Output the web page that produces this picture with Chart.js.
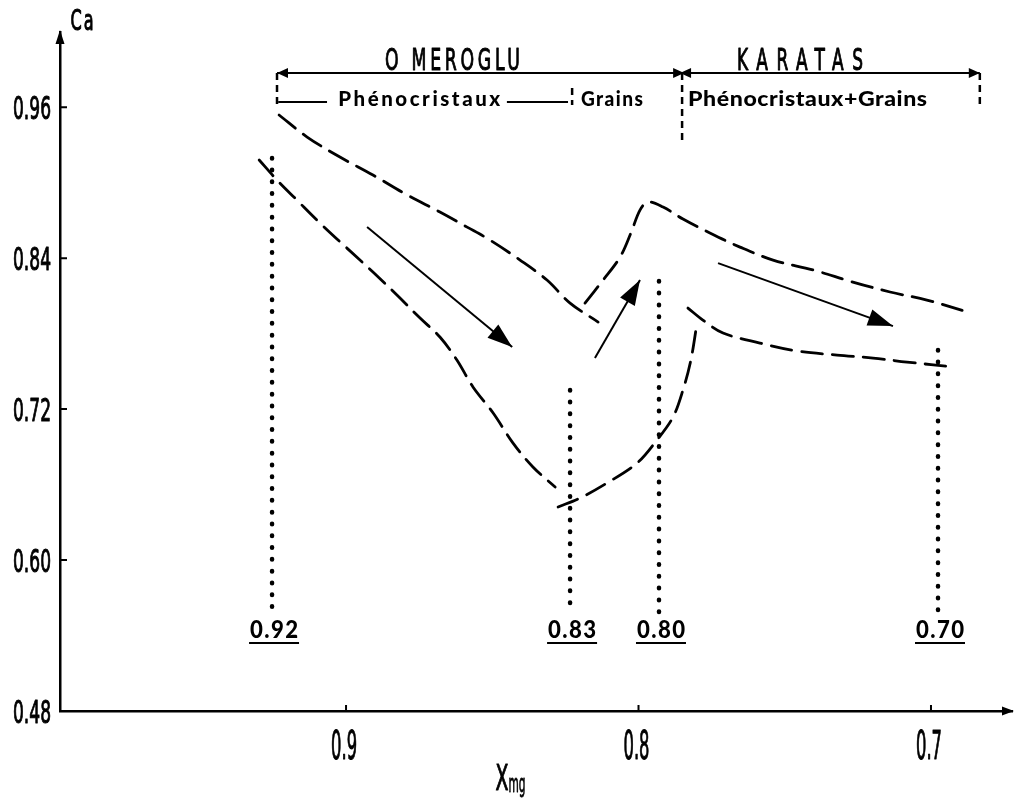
<!DOCTYPE html>
<html>
<head>
<meta charset="utf-8">
<script src="https://cdn.jsdelivr.net/npm/chart.js@4"></script>
<style>
  html, body { margin: 0; padding: 0; background: #fff; }
  canvas { display: block; }
</style>
</head>
<body>
<canvas id="chart" width="1017" height="811"></canvas>
<script>
// axis ticks
const xTicks = [0.9, 0.8, 0.7];
const yTicks = [0.48, 0.60, 0.72, 0.84, 0.96];

// OMEROGLU phenocrysts - upper and lower envelopes
const omUpperX = [0.9229, 0.9133, 0.9021, 0.8908, 0.8791, 0.8679, 0.8586, 0.8508, 0.8405, 0.8313, 0.8234, 0.8138];
const omUpperY = [0.9538, 0.9363, 0.9204, 0.9061, 0.8902, 0.8767, 0.8647, 0.8544, 0.8385, 0.8226, 0.8043, 0.7892];
const omLowerX = [0.9297, 0.9236, 0.9168, 0.9089, 0.8997, 0.8908, 0.8826, 0.8747, 0.8679, 0.8621, 0.8566, 0.8497, 0.8429, 0.8361, 0.8285];
const omLowerY = [0.9180, 0.9021, 0.8862, 0.8679, 0.8480, 0.8290, 0.8107, 0.7924, 0.7773, 0.7590, 0.7376, 0.7169, 0.6930, 0.6740, 0.6581];

// OMEROGLU grains - rising lower limb
const grainsX = [0.8275, 0.8200, 0.8108, 0.8005, 0.7937, 0.7882, 0.7848, 0.7821, 0.7800];
const grainsY = [0.6422, 0.6493, 0.6612, 0.6771, 0.6954, 0.7137, 0.7352, 0.7590, 0.7884];

// KARATAS - upper and lower envelopes
const kaUpperX = [0.8183, 0.8121, 0.8063, 0.8026, 0.7995, 0.7968, 0.7916, 0.7848, 0.7756, 0.7653, 0.7540, 0.7403, 0.7267, 0.7140, 0.7014, 0.6874];
const kaUpperY = [0.8043, 0.8226, 0.8409, 0.8600, 0.8782, 0.8846, 0.8806, 0.8711, 0.8600, 0.8488, 0.8385, 0.8306, 0.8210, 0.8131, 0.8067, 0.7972];
const kaLowerX = [0.7831, 0.7780, 0.7711, 0.7585, 0.7458, 0.7321, 0.7198, 0.7082, 0.6918];
const kaLowerY = [0.8003, 0.7908, 0.7805, 0.7725, 0.7662, 0.7630, 0.7606, 0.7574, 0.7534];

// trend arrows
const arrowFromX = [0.8928, 0.8149, 0.7728];
const arrowFromY = [0.8647, 0.7606, 0.8361];
const arrowToX = [0.8432, 0.7995, 0.7130];
const arrowToY = [0.7693, 0.8226, 0.7860];

// mean Xmg markers
const markLabels = ['0.92', '0.83', '0.80', '0.70'];
const markX = [0.9253, 0.8234, 0.7930, 0.6976];
const markTop = [0.9197, 0.7352, 0.8218, 0.7670];
const markBase = 0.5587;

// locality brackets
const groupNames = ['O MEROGLU', 'KARATAS'];
const groupFrom = [0.9236, 0.7858];
const groupTo = [0.7844, 0.6833];
const groupY = 0.9872;

// separators under the brackets
const sepX = [0.9236, 0.8227, 0.7851, 0.6833];
const sepTop = [0.9872, 0.9752, 0.9872, 0.9872];
const sepBottom = [0.9609, 0.9617, 0.9339, 0.9617];

// phase labels
const phaseLabels = ['Phénocristaux', 'Grains', 'Phénocristaux+Grains'];
const phaseX = [0.8750, 0.8091, 0.7422];
const phaseY = 0.9665;
const ruleFrom = [0.9232, 0.8450];
const ruleTo = [0.9065, 0.8241];
const ruleY = 0.9641;

const NARROW = "'DejaVu Sans Condensed', 'Liberation Sans Narrow', 'DejaVu Sans', sans-serif";
const ROUND = "Lato, 'Open Sans', sans-serif";

const pts = (xs, ys) => xs.map((x, i) => ({ x: x, y: ys[i] }));

const dashed = (xs, ys) => ({
    data: pts(xs, ys),
    borderColor: '#000',
    borderWidth: 2.8,
    borderDash: [21, 10],
    borderCapStyle: 'round',
    tension: 0.35,
    pointRadius: 0
});

const datasets = [
    dashed(omUpperX, omUpperY),
    dashed(omLowerX, omLowerY),
    dashed(grainsX, grainsY),
    dashed(kaUpperX, kaUpperY),
    dashed(kaLowerX, kaLowerY)
];

// trend arrows
arrowFromX.forEach((x, i) => {
    datasets.push({
        data: [{ x: x, y: arrowFromY[i] }, { x: arrowToX[i], y: arrowToY[i] }],
        borderColor: '#000',
        borderWidth: 2,
        pointRadius: 0,
        arrowHead: 'big'
    });
});

// dotted markers
markX.forEach((x, i) => {
    datasets.push({
        data: [{ x: x, y: markTop[i] }, { x: x, y: markBase }],
        borderColor: '#000',
        borderWidth: 4.5,
        borderDash: [0.5, 11.3],
        borderCapStyle: 'round',
        pointRadius: 0
    });
});

// bracket lines
groupFrom.forEach((x, i) => {
    datasets.push({
        data: [{ x: x, y: groupY }, { x: groupTo[i], y: groupY }],
        borderColor: '#000',
        borderWidth: 2,
        pointRadius: 0,
        arrowHead: 'both'
    });
});

// separators
sepX.forEach((x, i) => {
    datasets.push({
        data: [{ x: x, y: sepTop[i] }, { x: x, y: sepBottom[i] }],
        borderColor: '#000',
        borderWidth: 2.5,
        borderDash: [7, 5],
        pointRadius: 0
    });
});

// short rules either side of Phénocristaux
ruleFrom.forEach((x, i) => {
    datasets.push({
        data: [{ x: x, y: ruleY }, { x: ruleTo[i], y: ruleY }],
        borderColor: '#000',
        borderWidth: 2,
        pointRadius: 0
    });
});

function head(ctx, x0, y0, x1, y1, len, half) {
    const a = Math.atan2(y1 - y0, x1 - x0);
    const c = Math.cos(a), s = Math.sin(a);
    ctx.beginPath();
    ctx.moveTo(x1, y1);
    ctx.lineTo(x1 - len * c + half * s, y1 - len * s - half * c);
    ctx.lineTo(x1 - len * c - half * s, y1 - len * s + half * c);
    ctx.closePath();
    ctx.fill();
}

// draw text at cx (centre, or right edge when align is 'right'), squeezed to width
// a thin outline gives the condensed face a medium weight
function fitText(ctx, text, cx, y, width, spacing, align, outline) {
    ctx.save();
    ctx.letterSpacing = spacing + 'px';
    const w = ctx.measureText(text).width - spacing;
    ctx.translate(cx, y);
    ctx.scale(width / w, 1);
    let x = spacing / 2;
    ctx.textAlign = 'center';
    if (align === 'right') {
        ctx.textAlign = 'right';
        x = spacing;
    }
    ctx.fillText(text, x, 0);
    if (outline) {
        ctx.lineWidth = outline;
        ctx.lineJoin = 'round';
        ctx.strokeText(text, x, 0);
    }
    ctx.restore();
}

const decorations = {
    id: 'decorations',
    afterDatasetsDraw(chart) {
        const ctx = chart.ctx;
        const xs = chart.scales.x, ys = chart.scales.y;
        const area = chart.chartArea;
        ctx.save();
        ctx.fillStyle = '#000';
        ctx.strokeStyle = '#000';

        // arrow heads on datasets
        chart.data.datasets.forEach((ds, i) => {
            if (!ds.arrowHead) return;
            const p = chart.getDatasetMeta(i).data;
            if (ds.arrowHead === 'big') {
                head(ctx, p[0].x, p[0].y, p[1].x, p[1].y, 25, 8.5);
            } else {
                head(ctx, p[0].x, p[0].y, p[1].x, p[1].y, 11, 5);
                head(ctx, p[1].x, p[1].y, p[0].x, p[0].y, 11, 5);
            }
        });

        // axis arrows
        head(ctx, area.left, area.top + 30, area.left, area.top - 2, 14, 4.5);
        head(ctx, area.right - 30, area.bottom, area.right + 2, area.bottom, 12, 4.5);

        // inward tick marks
        ctx.lineWidth = 2;
        ctx.beginPath();
        yTicks.slice(1).forEach(v => {
            const py = ys.getPixelForValue(v);
            ctx.moveTo(area.left, py);
            ctx.lineTo(area.left + 7, py);
        });
        xTicks.forEach(v => {
            const px = xs.getPixelForValue(v);
            ctx.moveTo(px, area.bottom);
            ctx.lineTo(px, area.bottom - 6);
        });
        ctx.stroke();

        // tick labels, tall condensed face
        ctx.textBaseline = 'alphabetic';
        ctx.font = '32px ' + NARROW;
        yTicks.forEach(v => {
            fitText(ctx, v.toFixed(2), 51, ys.getPixelForValue(v) + 12, 38, 0, 'right', 1);
        });
        ctx.font = '39px ' + NARROW;
        xTicks.forEach(v => {
            fitText(ctx, v.toFixed(1), xs.getPixelForValue(v) - 2, 759, 26, 0, 'center', 1);
        });

        // axis titles
        ctx.font = '28px ' + NARROW;
        fitText(ctx, 'Ca', 82, 30, 23, 3, 'center', 1);
        ctx.font = '36px ' + NARROW;
        fitText(ctx, 'X', 502, 790, 13, 0, 'center', 1);
        ctx.font = '25px ' + NARROW;
        fitText(ctx, 'mg', 517, 792, 17, 0, 'center', 0.8);

        // locality names
        ctx.font = '31px ' + NARROW;
        const gy = ys.getPixelForValue(groupY) - 3;
        fitText(ctx, groupNames[0], xs.getPixelForValue(0.8636), gy, 135, 6, 'center', 1);
        fitText(ctx, groupNames[1], xs.getPixelForValue(0.7448), gy, 126, 14, 'center', 1);

        // phase labels
        ctx.font = '900 20px ' + ROUND;
        const py = ys.getPixelForValue(phaseY) + 7;
        fitText(ctx, phaseLabels[0], xs.getPixelForValue(phaseX[0]), py, 162, 2.5);
        fitText(ctx, phaseLabels[1], xs.getPixelForValue(phaseX[1]), py, 62, 1.5);
        fitText(ctx, phaseLabels[2], xs.getPixelForValue(phaseX[2]), py, 239, 0.5);

        // marker labels with underline
        ctx.font = '900 24px ' + ROUND;
        const ly = ys.getPixelForValue(markBase) + 26;
        markLabels.forEach((t, i) => {
            const cx = xs.getPixelForValue(markX[i]) + 2;
            fitText(ctx, t, cx, ly, 48, 1.5);
            ctx.fillRect(cx - 25, ly + 4, 50, 2);
        });
        ctx.restore();
    }
};

new Chart(document.getElementById('chart'), {
    type: 'line',
    data: { datasets: datasets },
    options: {
        responsive: false,
        animation: false,
        layout: { padding: { top: 32, right: 5, left: 0, bottom: 0 } },
        plugins: {
            legend: { display: false },
            tooltip: { enabled: false }
        },
        scales: {
            x: {
                type: 'linear',
                reverse: true,
                min: 0.6723,
                max: 0.9978,
                afterBuildTicks: scale => { scale.ticks = xTicks.map(v => ({ value: v })); },
                afterFit: scale => { scale.height = 100; },
                grid: { display: false, drawTicks: false },
                border: { display: true, color: '#000', width: 2.5 },
                ticks: { display: false }
            },
            y: {
                type: 'linear',
                min: 0.48,
                max: 1.0198,
                afterBuildTicks: scale => { scale.ticks = yTicks.map(v => ({ value: v })); },
                afterFit: scale => { scale.width = 60; },
                grid: { display: false, drawTicks: false },
                border: { display: true, color: '#000', width: 2.5 },
                ticks: { display: false }
            }
        }
    },
    plugins: [decorations]
});
</script>
</body>
</html>
